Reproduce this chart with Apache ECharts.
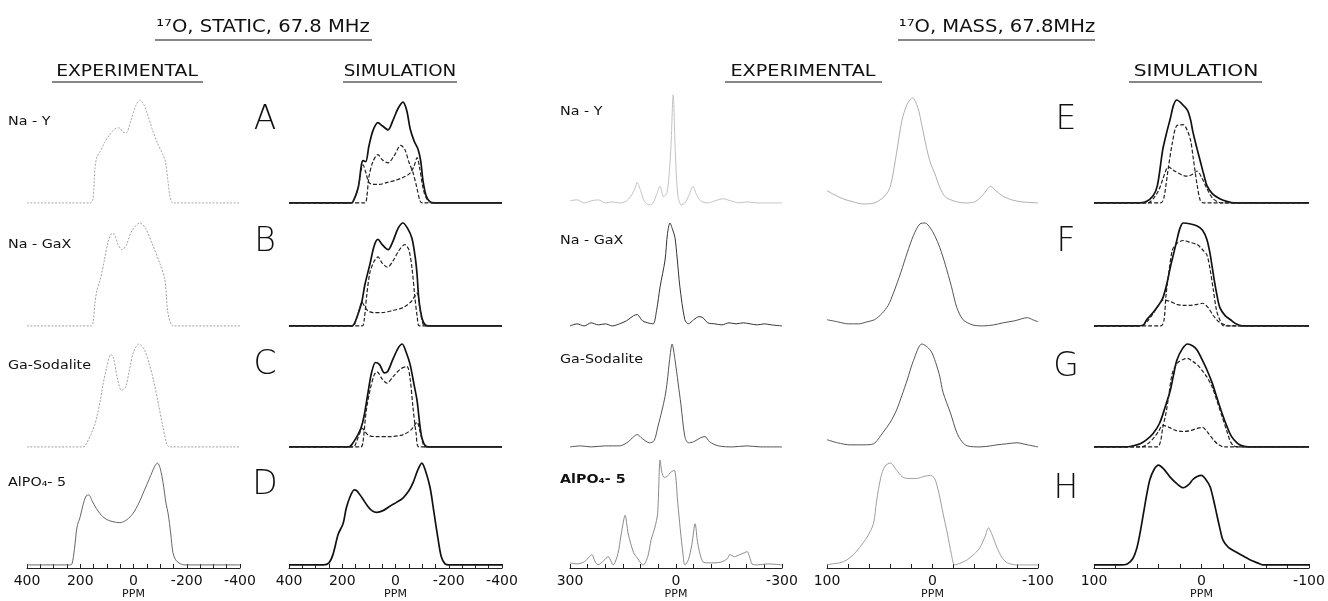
<!DOCTYPE html>
<html>
<head>
<meta charset="utf-8">
<title>17O static and MAS NMR spectra</title>
<script src="https://cdn.jsdelivr.net/npm/echarts@6/dist/echarts.min.js"></script>
<style>
html, body { margin: 0; padding: 0; background: #fff; }
#chart { width: 1328px; height: 601px; }
</style>
</head>
<body>
<div id="chart"></div>
<script>
// tick labels of the three kinds of ppm axes
var staticTicks = [400, 200, 0, -200, -400];
var masTicks = [300, 0, -300];
var masZoomTicks = [100, 0, -100];

var sampleNames = ['Na - Y', 'Na - GaX', 'Ga-Sodalite', 'AlPO₄- 5'];
var staticLetters = ['A', 'B', 'C', 'D'];
var masLetters = ['E', 'F', 'G', 'H'];

// static, experimental  [ppm, intensity]
var staticExpNaY = [[400,0],[276,0],[163,0],[152,0.04],[145,0.33],[137,0.45],[125,0.5],[110,0.58],[90,0.66],[70,0.72],[55,0.73],[40,0.69],[28,0.68],[10,0.8],[-8,0.94],[-24,1.0],[-40,0.95],[-55,0.84],[-70,0.72],[-90,0.58],[-110,0.47],[-120,0.4],[-130,0.2],[-138,0.05],[-148,0],[-400,0]];
var staticExpNaGaX = [[400,0],[160,0],[152,0.03],[145,0.22],[137,0.35],[125,0.45],[110,0.63],[95,0.82],[80,0.9],[70,0.88],[58,0.79],[43,0.74],[28,0.78],[5,0.93],[-24,1.0],[-45,0.95],[-70,0.8],[-100,0.6],[-118,0.45],[-128,0.15],[-140,0.02],[-150,0],[-400,0]];
var staticExpGaSod = [[400,0],[190,0],[182,0.01],[160,0.12],[145,0.22],[137,0.3],[125,0.45],[115,0.6],[100,0.78],[85,0.9],[75,0.86],[60,0.66],[45,0.55],[30,0.58],[15,0.75],[0,0.92],[-20,1.0],[-40,0.95],[-60,0.8],[-75,0.65],[-95,0.4],[-110,0.2],[-126,0.02],[-135,0],[-400,0]];
var staticExpAlPO = [[400,0],[240,0],[231,0.01],[222,0.15],[212,0.37],[200,0.47],[190,0.58],[178,0.67],[168,0.68],[155,0.62],[140,0.55],[120,0.48],[100,0.44],[77,0.42],[51,0.41],[25,0.44],[2,0.5],[-20,0.6],[-40,0.72],[-60,0.84],[-80,0.96],[-90,0.99],[-100,0.94],[-111,0.8],[-122,0.6],[-130,0.5],[-140,0.3],[-148,0.12],[-158,0.05],[-170,0.02],[-190,0],[-400,0]];

// static, simulation: total and two components
var simA = [[400,0],[170,0],[160,0.01],[140,0.15],[128,0.37],[122,0.41],[112,0.4],[100,0.55],[85,0.7],[66,0.78],[50,0.75],[28,0.71],[10,0.8],[-10,0.92],[-28,0.98],[-42,0.9],[-55,0.72],[-70,0.6],[-85,0.52],[-95,0.4],[-103,0.22],[-115,0.07],[-130,0.01],[-145,0],[-400,0]];
var simA1 = [[400,0],[115,0],[108,0.05],[100,0.25],[85,0.4],[66,0.47],[50,0.42],[28,0.39],[5,0.46],[-20,0.56],[-35,0.52],[-50,0.4],[-65,0.3],[-80,0.15],[-92,0.02],[-100,0],[-400,0]];
var simA2 = [[400,0],[170,0],[160,0.01],[140,0.15],[128,0.33],[122,0.37],[112,0.3],[100,0.2],[85,0.18],[60,0.18],[30,0.2],[0,0.22],[-30,0.25],[-55,0.29],[-70,0.36],[-81,0.44],[-90,0.35],[-103,0.15],[-115,0.05],[-130,0.01],[-145,0],[-400,0]];
var simB = [[400,0],[165,0],[155,0.02],[140,0.12],[126,0.24],[115,0.4],[96,0.6],[80,0.78],[66,0.84],[50,0.79],[28,0.74],[10,0.82],[-10,0.95],[-28,1.0],[-45,0.95],[-62,0.85],[-75,0.65],[-81,0.5],[-88,0.25],[-100,0.07],[-112,0.01],[-125,0],[-400,0]];
var simB1 = [[400,0],[125,0],[118,0.05],[108,0.3],[96,0.52],[80,0.63],[66,0.67],[50,0.61],[30,0.57],[10,0.63],[-15,0.74],[-35,0.79],[-50,0.74],[-62,0.56],[-72,0.3],[-82,0.08],[-90,0],[-400,0]];
var simB2 = [[400,0],[160,0],[150,0.04],[135,0.17],[126,0.23],[118,0.2],[105,0.15],[85,0.13],[50,0.13],[10,0.15],[-30,0.18],[-60,0.24],[-81,0.32],[-90,0.2],[-100,0.05],[-110,0],[-400,0]];
var simC = [[400,0],[175,0],[165,0.02],[145,0.1],[130,0.18],[118,0.3],[105,0.5],[90,0.72],[75,0.82],[60,0.8],[42,0.72],[30,0.73],[10,0.85],[-10,0.96],[-25,1.0],[-40,0.92],[-55,0.8],[-70,0.6],[-81,0.45],[-92,0.2],[-100,0.08],[-112,0.01],[-125,0],[-400,0]];
var simC1 = [[400,0],[130,0],[122,0.05],[110,0.35],[96,0.55],[80,0.7],[69,0.73],[50,0.66],[32,0.62],[10,0.68],[-20,0.76],[-43,0.78],[-55,0.66],[-65,0.4],[-78,0.12],[-88,0],[-400,0]];
var simC2 = [[400,0],[158,0],[148,0.04],[135,0.13],[124,0.18],[115,0.15],[100,0.11],[70,0.1],[20,0.1],[-30,0.12],[-60,0.17],[-81,0.24],[-92,0.15],[-105,0.02],[-112,0],[-400,0]];
var simD = [[400,0],[270,0],[250,0.02],[235,0.1],[215,0.3],[197,0.4],[185,0.55],[171,0.66],[155,0.73],[145,0.72],[125,0.65],[107,0.58],[90,0.53],[70,0.51],[45,0.53],[21,0.57],[-5,0.61],[-28,0.65],[-50,0.72],[-66,0.8],[-85,0.93],[-99,0.99],[-112,0.92],[-130,0.75],[-145,0.5],[-160,0.25],[-172,0.08],[-186,0.01],[-200,0],[-400,0]];

// MAS, experimental, full range with spinning sidebands
var masExpNaY = [[300,0.02],[280,0.03],[260,0],[240,0.02],[220,0.03],[200,0],[180,0.01],[160,0],[140,0.02],[125,0.08],[115,0.15],[110,0.2],[100,0.12],[90,0.02],[75,-0.02],[65,0],[55,0.08],[45,0.16],[35,0.06],[25,0.1],[15,0.5],[8,1.05],[2,0.5],[-5,0.08],[-15,-0.02],[-25,0],[-35,0.06],[-48,0.16],[-58,0.08],[-70,0.02],[-90,0],[-110,0.02],[-133,0.04],[-155,0.02],[-180,0],[-200,0.01],[-230,0],[-260,0],[-300,0]];
var masExpNaGaX = [[300,0],[280,0.02],[260,0],[240,0.03],[220,0.01],[200,0.02],[180,0],[160,0.02],[140,0.05],[120,0.1],[110,0.11],[95,0.05],[80,0.03],[65,0.02],[55,0.15],[45,0.38],[31,0.64],[24,0.9],[17,1.0],[10,0.94],[3,0.86],[-3,0.67],[-11,0.38],[-25,0.06],[-35,0.02],[-50,0.06],[-65,0.09],[-76,0.08],[-90,0.03],[-110,0.02],[-130,0.01],[-150,0.03],[-170,0.02],[-190,0.03],[-210,0.02],[-230,0.01],[-250,0.02],[-270,0.01],[-300,0]];
var masExpGaSod = [[300,0],[270,0.01],[240,0],[200,0.01],[160,0.01],[135,0.05],[120,0.1],[110,0.12],[95,0.08],[75,0.04],[62,0.06],[51,0.2],[40,0.35],[31,0.49],[25,0.63],[18,0.85],[11,1.0],[3,0.85],[-6,0.62],[-14,0.41],[-25,0.1],[-35,0.04],[-50,0.05],[-70,0.09],[-82,0.1],[-95,0.05],[-120,0.01],[-160,0],[-200,0.01],[-240,0],[-300,0]];
var masExpAlPO = [[300,0.02],[280,0.01],[260,0.03],[245,0.08],[238,0.1],[230,0.04],[221,0],[205,0.04],[192,0.08],[183,0.03],[178,0],[165,0.1],[155,0.3],[144,0.48],[135,0.3],[120,0.12],[110,0.07],[100,0.02],[93,0],[80,0.08],[70,0.25],[60,0.36],[52,0.5],[45,1.02],[40,0.9],[33,0.85],[25,0.86],[15,0.9],[5,0.92],[-5,0.6],[-12,0.35],[-20,0.1],[-25,0],[-35,0.05],[-45,0.2],[-54,0.4],[-62,0.2],[-76,0.03],[-90,0.02],[-110,0.02],[-130,0.03],[-145,0.06],[-153,0.1],[-165,0.08],[-180,0.1],[-195,0.12],[-201,0.13],[-210,0.06],[-215,0.01],[-230,0],[-260,0.01],[-300,0]];

// MAS, experimental, centre band expanded
var masZoomNaY = [[100,0.12],[95,0.09],[85,0.04],[75,0.01],[66,-0.01],[55,0],[45,0.07],[40,0.16],[34,0.49],[29,0.8],[24,0.96],[19,1.02],[14,0.93],[10,0.75],[6,0.55],[2,0.39],[-2,0.29],[-7,0.15],[-12,0.06],[-20,0.02],[-30,0],[-40,0.01],[-48,0.08],[-55,0.16],[-60,0.12],[-66,0.07],[-75,0.03],[-85,0.01],[-100,0]];
var masZoomNaGaX = [[100,0.06],[90,0.04],[80,0.02],[70,0.02],[62,0.04],[55,0.06],[48,0.12],[42,0.2],[37,0.32],[30,0.52],[24,0.71],[18,0.88],[12,0.99],[7,1.0],[2,0.95],[-2,0.88],[-7,0.76],[-12,0.6],[-18,0.38],[-23,0.18],[-29,0.06],[-38,0.01],[-48,0],[-58,0.01],[-67,0.03],[-78,0.05],[-90,0.08],[-95,0.06],[-100,0.04]];
var masZoomGaSod = [[100,0.07],[90,0.04],[78,0.02],[65,0.02],[56,0.03],[47,0.14],[40,0.24],[34,0.36],[29,0.5],[24,0.65],[18,0.84],[10,1.0],[2,0.94],[-3,0.82],[-7,0.68],[-10,0.53],[-17,0.33],[-23,0.14],[-28,0.05],[-33,0.01],[-45,0],[-55,0.01],[-61,0.02],[-70,0.03],[-80,0.04],[-90,0.02],[-100,0]];
var masZoomAlPO = [[100,0],[95,0.01],[88,0.02],[81,0.05],[75,0.1],[69,0.17],[62,0.27],[56,0.4],[53,0.62],[49,0.85],[45,0.96],[40,0.99],[34,0.92],[29,0.86],[24,0.84],[15,0.84],[8,0.86],[2,0.87],[-2,0.84],[-6,0.7],[-10,0.5],[-14,0.31],[-18,0.1],[-21,0],[-27,0.02],[-33,0.05],[-40,0.11],[-45,0.17],[-50,0.28],[-53,0.36],[-57,0.28],[-61,0.17],[-66,0.07],[-71,0.02],[-80,0],[-100,0]];

// MAS, simulation: total and two components
var simE = [[100,0],[60,0],[52,0.01],[45,0.07],[41,0.17],[36,0.52],[32,0.7],[29,0.82],[26,0.95],[23,1.0],[18,0.96],[13,0.9],[10,0.8],[8,0.69],[4,0.52],[1,0.4],[-2,0.28],[-5,0.17],[-10,0.09],[-17,0.04],[-25,0.01],[-30,0],[-100,0]];
var simE1 = [[100,0],[38,0],[35,0.05],[31,0.33],[27,0.59],[23,0.75],[17,0.76],[13,0.7],[10,0.6],[8,0.46],[4,0.17],[1,0.02],[-2,0],[-100,0]];
var simE2 = [[100,0],[50,0],[45,0.04],[40,0.12],[36,0.23],[33,0.32],[31,0.35],[25,0.31],[18,0.27],[13,0.26],[8,0.28],[4,0.31],[0,0.25],[-5,0.14],[-10,0.05],[-15,0.01],[-20,0],[-100,0]];
var simF = [[100,0],[60,0],[54,0.01],[51,0.06],[45,0.13],[40,0.2],[36,0.27],[32,0.42],[29,0.57],[26,0.7],[23,0.83],[20,0.95],[17,1.0],[10,0.99],[4,0.97],[-1,0.93],[-5,0.84],[-8,0.7],[-11,0.5],[-14,0.32],[-17,0.18],[-22,0.1],[-27,0.06],[-32,0.02],[-38,0],[-100,0]];
var simF1 = [[100,0],[38,0],[35,0.05],[33,0.3],[30,0.55],[27,0.74],[23,0.8],[17,0.83],[10,0.81],[4,0.79],[-1,0.74],[-5,0.69],[-8,0.55],[-11,0.35],[-14,0.15],[-17,0.06],[-21,0],[-100,0]];
var simF2 = [[100,0],[56,0],[50,0.05],[45,0.12],[40,0.2],[36,0.25],[30,0.24],[23,0.21],[17,0.2],[10,0.2],[4,0.21],[-1,0.22],[-6,0.18],[-11,0.1],[-16,0.04],[-22,0.01],[-27,0],[-100,0]];
var simG = [[100,0],[70,0],[64,0.01],[57,0.03],[51,0.07],[45,0.13],[39,0.23],[34,0.38],[29,0.55],[26,0.7],[23,0.84],[18,0.95],[13,1.0],[8,0.98],[4,0.94],[0,0.86],[-5,0.75],[-10,0.62],[-14,0.49],[-19,0.33],[-24,0.19],[-28,0.1],[-33,0.04],[-38,0.01],[-44,0],[-100,0]];
var simG1 = [[100,0],[41,0],[38,0.06],[36,0.19],[33,0.33],[31,0.46],[27,0.72],[22,0.82],[17,0.85],[13,0.86],[8,0.83],[4,0.8],[0,0.75],[-5,0.68],[-10,0.58],[-14,0.46],[-19,0.3],[-24,0.14],[-27,0.05],[-30,0.01],[-34,0],[-100,0]];
var simG2 = [[100,0],[56,0],[50,0.03],[45,0.08],[40,0.15],[36,0.21],[30,0.19],[24,0.16],[17,0.15],[10,0.16],[4,0.18],[-1,0.19],[-5,0.15],[-11,0.07],[-16,0.02],[-21,0],[-100,0]];
var simH = [[100,0],[75,0],[69,0.01],[64,0.06],[60,0.17],[57,0.32],[54,0.5],[51,0.68],[48,0.83],[44,0.93],[40,0.97],[35,0.93],[29,0.85],[23,0.79],[17,0.75],[12,0.78],[8,0.83],[4,0.86],[0,0.87],[-4,0.83],[-8,0.76],[-11,0.64],[-14,0.5],[-17,0.36],[-20,0.24],[-25,0.17],[-33,0.12],[-40,0.08],[-45,0.05],[-52,0.02],[-57,0],[-100,0]];

var chart = echarts.init(document.getElementById('chart'), null, { renderer: 'canvas' });

var columns = [
    { left: 27, width: 213, ticks: staticTicks, minor: 4, sim: false },
    { left: 289, width: 213, ticks: staticTicks, minor: 4, sim: true },
    { left: 570, width: 212, ticks: masTicks, minor: 6, sim: false },
    { left: 827, width: 211, ticks: masZoomTicks, minor: 5, sim: false },
    { left: 1094, width: 215, ticks: masZoomTicks, minor: 5, sim: true }
];
var baselines = [203, 326, 447, 565];

var panels = [
    [[staticExpNaY], [simA, simA1, simA2], [masExpNaY], [masZoomNaY], [simE, simE1, simE2]],
    [[staticExpNaGaX], [simB, simB1, simB2], [masExpNaGaX], [masZoomNaGaX], [simF, simF1, simF2]],
    [[staticExpGaSod], [simC, simC1, simC2], [masExpGaSod], [masZoomGaSod], [simG, simG1, simG2]],
    [[staticExpAlPO], [simD], [masExpAlPO], [masZoomAlPO], [simH]]
];
// grey of the experimental traces, per column then row
var expColors = {
    0: ['#a8a8a8', '#a0a0a0', '#a0a0a0', '#666'],
    2: ['#c4c4c4', '#333', '#555', '#8a8a8a'],
    3: ['#b0b0b0', '#555', '#555', '#a0a0a0']
};

var grids = [], xAxes = [], yAxes = [], series = [];
for (var r = 0; r < 4; r++) {
    for (var c = 0; c < 5; c++) {
        var col = columns[c], idx = grids.length, ticks = col.ticks;
        grids.push({ left: col.left, width: col.width, top: baselines[r] - 103, height: 106 });
        xAxes.push({
            gridIndex: idx,
            type: 'value',
            inverse: true,
            min: ticks[ticks.length - 1],
            max: ticks[0],
            interval: ticks[0] - ticks[1],
            show: r === 3,
            axisLine: { onZero: false, lineStyle: { color: '#222', width: 1.2 } },
            axisTick: { inside: true, length: 4, lineStyle: { color: '#222' } },
            minorTick: { show: true, splitNumber: col.minor, length: 4, lineStyle: { color: '#222' } },
            splitLine: { show: false },
            axisLabel: { color: '#111', fontSize: 14, fontFamily: 'DejaVu Sans', margin: 6 },
            name: 'PPM',
            nameLocation: 'middle',
            nameGap: 21,
            nameTextStyle: { color: '#111', fontSize: 11, fontFamily: 'DejaVu Sans' }
        });
        yAxes.push({ gridIndex: idx, type: 'value', min: -0.03, max: 1.0, show: false });
        panels[r][c].forEach(function(d, k) {
            var ls;
            if (!col.sim) {
                ls = { color: expColors[c][r], width: 1 };
                if (c === 0 && r < 3) ls.type = [2, 1.5];
            } else if (k === 0) {
                ls = { color: '#111', width: 1.7 };
            } else {
                ls = { color: '#222', width: 1.2, type: [4, 2] };
            }
            series.push({
                type: 'line',
                xAxisIndex: idx,
                yAxisIndex: idx,
                data: d,
                symbol: 'none',
                smooth: 0.3,
                clip: false,
                silent: true,
                lineStyle: ls
            });
        });
    }
}

var textEl = function(str, x, y, size, opt) {
    opt = opt || {};
    return {
        type: 'text',
        x: x,
        y: y,
        scaleX: opt.sx || 1,
        silent: true,
        style: {
            text: str,
            fill: '#111',
            fontSize: size,
            fontFamily: opt.family || 'DejaVu Sans',
            fontWeight: opt.weight || 'normal',
            align: opt.align || 'center',
            textAlign: opt.align || 'center',
            verticalAlign: 'middle',
            textVerticalAlign: 'middle'
        }
    };
};
var underline = function(x1, x2, y) {
    return { type: 'line', silent: true, shape: { x1: x1, y1: y, x2: x2, y2: y }, style: { stroke: '#111', lineWidth: 1.2 } };
};

var graphics = [
    textEl('¹⁷O, STATIC, 67.8 MHz', 263, 28, 17, { sx: 1.15 }), underline(155, 372, 40),
    textEl('¹⁷O, MASS, 67.8MHz', 997, 28, 17, { sx: 1.15 }), underline(898, 1095, 40),
    textEl('EXPERIMENTAL', 127, 72, 15, { sx: 1.25 }), underline(52, 203, 82),
    textEl('SIMULATION', 400, 72, 15, { sx: 1.22 }), underline(343, 457, 82),
    textEl('EXPERIMENTAL', 803, 72, 15, { sx: 1.28 }), underline(725, 882, 82),
    textEl('SIMULATION', 1196, 72, 15, { sx: 1.35 }), underline(1129, 1262, 82)
];
var nameY1 = [122, 245, 366, 483], nameY3 = [112, 241, 360, 480];
var letterY1 = [120, 242, 365, 485], letterY2 = [120, 242, 367, 489];
for (var i = 0; i < 4; i++) {
    graphics.push(textEl(sampleNames[i], 8, nameY1[i], 13, { align: 'left', sx: 1.1 }));
    graphics.push(textEl(sampleNames[i], 560, nameY3[i], 13, { align: 'left', sx: 1.1, weight: i === 3 ? 'bold' : 'normal' }));
    graphics.push(textEl(staticLetters[i], 265, letterY1[i], 33, { weight: 200 }));
    graphics.push(textEl(masLetters[i], 1066, letterY2[i], 33, { weight: 200 }));
}

chart.setOption({
    backgroundColor: '#fff',
    animation: false,
    grid: grids,
    xAxis: xAxes,
    yAxis: yAxes,
    series: series,
    graphic: graphics
});
</script>
</body>
</html>
